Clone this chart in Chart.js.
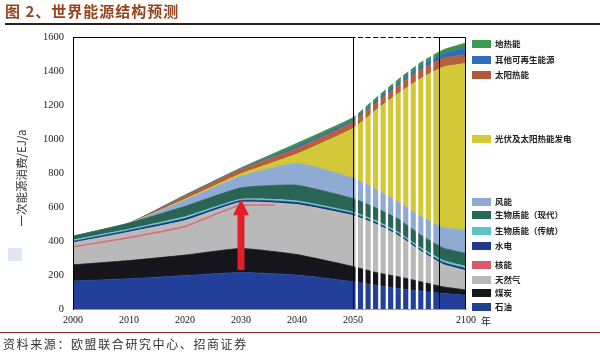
<!DOCTYPE html>
<html><head><meta charset="utf-8">
<script src="https://cdn.jsdelivr.net/npm/chart.js@4"></script>
<style>
html,body{margin:0;padding:0;background:#fff;width:600px;height:355px;overflow:hidden;position:relative;font-family:"Noto Sans CJK SC","Noto Sans",sans-serif;}
#c{position:absolute;left:0;top:0;}
.title{position:absolute;left:5px;top:1px;font-size:15px;font-weight:bold;color:#94441c;letter-spacing:1px;line-height:20px;}
.tline{position:absolute;left:5px;top:23px;width:595px;height:2px;background:#2e2018;}
.bline{position:absolute;left:0;top:332px;width:600px;height:1px;background:#8e2a22;}
.src{position:absolute;left:3px;top:336px;font-size:12px;color:#333;letter-spacing:1.6px;line-height:16px;}
.ytitle{position:absolute;left:21px;top:178px;transform:translate(-50%,-50%) rotate(-90deg);white-space:nowrap;font-size:11.5px;color:#333;}
.sq{position:absolute;left:8px;top:248px;width:14px;height:13px;background:#dfe8f2;}
.nian{position:absolute;left:481px;top:313px;font-size:10px;color:#222;}
.lg{position:absolute;left:472px;height:12px;white-space:nowrap;font-size:8.5px;font-weight:bold;color:#222;line-height:12px;}
.lg i{display:inline-block;width:19px;height:8px;vertical-align:middle;margin-right:4px;margin-top:-2px;}
</style></head><body>
<canvas id="c" width="600" height="355"></canvas>
<div class="title">图 2、世界能源结构预测</div>
<div class="tline"></div>
<div class="ytitle">一次能源消费/EJ/a</div>
<div class="sq"></div>
<div class="nian">年</div>
<div class="bline"></div>
<div class="src">资料来源：欧盟联合研究中心、招商证券</div>
<div id="legend"></div>
<script>
// ---- data ----
const years = [2000, 2010, 2020, 2030, 2040, 2050, 2060, 2070, 2080, 2090, 2100];
const oil        = [165, 178, 197, 215, 200, 161, 140, 120, 105, 92, 80];
const coal       = [95, 107, 120, 141, 120, 89, 75, 70, 55, 38, 32];
const gas        = [106, 135, 169, 256, 270, 275, 263, 222, 162, 115, 96];
const nuclear    = [24, 32, 34, 16, 24, 25, 22, 20, 18, 17, 17];
const hydro      = [8, 10, 12, 10, 12, 11, 10, 10, 10, 11, 13];
const bioTrad    = [8, 8, 11, 8, 10, 9, 10, 10, 10, 12, 12];
const bioModern  = [22, 35, 61, 67, 92, 80, 75, 78, 75, 73, 78];
const wind       = [0, 0, 36, 68, 130, 120, 110, 100, 110, 120, 138];
const pvSolar    = [0, 0, 5, 14, 54, 292, 463, 637, 810, 945, 979];
const solarHeat  = [0, 0, 20, 27, 33, 38, 42, 48, 53, 52, 50];
const otherRenew = [0, 0, 3, 4, 13, 12, 15, 17, 22, 25, 45];
const geothermal = [0, 0, 2, 4, 17, 14, 15, 18, 20, 25, 25];
const tickYears  = [2000, 2010, 2020, 2030, 2040, 2050, 2100];
const yTicks     = [0, 200, 400, 600, 800, 1000, 1200, 1400, 1600];
const boxYears   = [2050, 2088];
const arrowYear = 2030, arrowFrom = 230, arrowTo = 645, pinkLineEnd = 2036;

const seriesNames = ['石油','煤炭','天然气','核能','水电','生物质能（传统）','生物质能（现代）','风能','光伏及太阳热能发电','太阳热能','其他可再生能源','地热能'];
const seriesData = [oil, coal, gas, nuclear, hydro, bioTrad, bioModern, wind, pvSolar, solarHeat, otherRenew, geothermal];
const fillColors = ['#22409a','#16151b','#b9b9b9','#bababa','#1c3478','#62c6cc','#2a6455','#8fabd3','#d3c837','#b4603a','#2f6db5','#3f8f4f'];
const legendColors = ['#21418f','#17161d','#b8b8b8','#d65c68','#1f3a8a','#5bc4c4','#276a58','#8fa9d2','#d4c93a','#b5573a','#2e6fb8','#3a9a52'];
const legendTops = [300, 286, 273, 258, 239, 224, 208, 195, 132, 68, 53, 37];

// compressed time scale after 2050
const K = 0.4036;
const T = y => y <= 2050 ? y : 2050 + (y - 2050) * K;

const datasets = seriesData.map((d, i) => ({
  label: seriesNames[i],
  data: d.map((v, j) => ({x: T(years[j]), y: v})),
  backgroundColor: fillColors[i],
  borderColor: fillColors[i],
  borderWidth: i === 2 ? 1.6 : 0.8,
  fill: i === 0 ? 'origin' : '-1',
  pointRadius: 0,
  tension: 0.15,
  segment: i === 2 ? { borderColor: c => c.p1.parsed.x <= 2030 ? '#d8707a' : fillColors[2] } : undefined
}));

const deco = {
  id: 'deco',
  afterDatasetsDraw(chart) {
    const {ctx, chartArea: a, scales: {x, y}} = chart;
    ctx.save();
    // pink horizontal continuation
    const gm = chart.getDatasetMeta(2).data[years.indexOf(arrowYear)];
    ctx.strokeStyle = '#d8707a'; ctx.lineWidth = 1.4;
    ctx.beginPath(); ctx.moveTo(gm.x, gm.y); ctx.lineTo(x.getPixelForValue(T(pinkLineEnd)), gm.y); ctx.stroke();
    // frame
    ctx.strokeStyle = '#000'; ctx.lineWidth = 1;
    ctx.beginPath();
    ctx.moveTo(a.left + 0.5, a.bottom); ctx.lineTo(a.left + 0.5, a.top + 0.5);
    ctx.lineTo(a.right - 0.5, a.top + 0.5); ctx.lineTo(a.right - 0.5, a.bottom);
    ctx.stroke();
    // box lines
    const b0 = x.getPixelForValue(T(boxYears[0])), b1 = x.getPixelForValue(T(boxYears[1]));
    [b0, b1].forEach(p => { ctx.beginPath(); ctx.moveTo(Math.round(p) + 0.5, a.top); ctx.lineTo(Math.round(p) + 0.5, a.bottom); ctx.stroke(); });
    // white stripes
    const n = 11, sp = (b1 - b0) / 11.4;
    ctx.strokeStyle = '#ffffff'; ctx.lineWidth = 2.4;
    for (let i = 0; i < n; i++) {
      const p = b0 + sp * (i + 0.5);
      ctx.beginPath(); ctx.moveTo(p, a.top - 1); ctx.lineTo(p, a.bottom); ctx.stroke();
    }
    // red arrow
    const ax = x.getPixelForValue(T(arrowYear));
    const yb = y.getPixelForValue(arrowFrom), yt = y.getPixelForValue(arrowTo);
    const headH = 16, headW = 8, shaft = 3.5;
    ctx.fillStyle = '#e01f2b';
    ctx.beginPath();
    ctx.moveTo(ax - shaft, yb); ctx.lineTo(ax - shaft, yt + headH); ctx.lineTo(ax - headW, yt + headH);
    ctx.lineTo(ax, yt); ctx.lineTo(ax + headW, yt + headH); ctx.lineTo(ax + shaft, yt + headH);
    ctx.lineTo(ax + shaft, yb); ctx.closePath(); ctx.fill();
    ctx.restore();
  }
};

new Chart(document.getElementById('c'), {
  type: 'line',
  data: { datasets },
  options: {
    responsive: false, animation: false, devicePixelRatio: 1,
    layout: { padding: { left: 0, right: 134, top: 37, bottom: 26 } },
    plugins: { legend: { display: false }, tooltip: { enabled: false } },
    scales: {
      x: {
        type: 'linear', min: 2000, max: T(2100),
        grid: { display: false, drawTicks: false },
        border: { display: true, color: '#999' },
        afterBuildTicks: s => { s.ticks = tickYears.map(v => ({ value: T(v) })); },
        afterFit: s => { s.height = 20; },
        ticks: { padding: 5, maxRotation: 0, autoSkip: false, color: '#111',
          font: { family: 'Liberation Serif', size: 10 },
          callback: (v, i) => String(tickYears[i]) }
      },
      y: {
        stacked: true, min: 0, max: 1600,
        grid: { display: false, drawTicks: false },
        border: { display: true, color: '#000' },
        afterBuildTicks: s => { s.ticks = yTicks.map(v => ({ value: v })); },
        afterFit: s => { s.width = 73; },
        ticks: { padding: 9, color: '#222', font: { family: 'Liberation Serif', size: 10.5 },
          callback: v => String(v) }
      }
    }
  },
  plugins: [deco]
});

// HTML legend
const lg = document.getElementById('legend');
seriesNames.forEach((n, i) => {
  const d = document.createElement('div');
  d.className = 'lg';
  d.style.top = legendTops[i] + 'px';
  d.innerHTML = '<i style="background:' + legendColors[i] + '"></i>' + n;
  lg.appendChild(d);
});
</script>
</body></html>
